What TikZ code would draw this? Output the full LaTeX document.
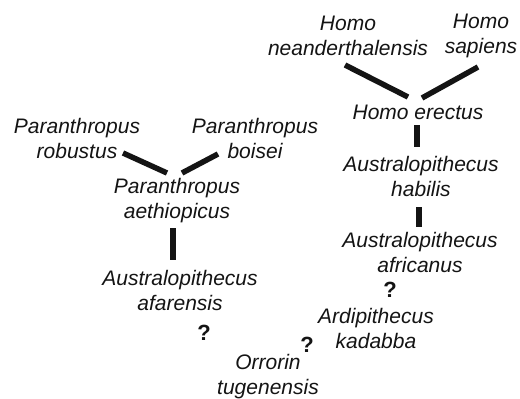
\documentclass[tikz,border=0pt]{standalone}
\usepackage{fontspec}
\setmainfont{Liberation Sans}
\usetikzlibrary{calc}
\definecolor{TreeInk}{RGB}{20,20,20}

\begin{document}
\begin{tikzpicture}[
x=1pt,y=-1pt,
taxon/.style={align=center,inner sep=0pt,text=TreeInk,
font=\itshape\fontsize{21}{25}\selectfont},
query/.style={inner sep=0pt,text=TreeInk,font=\bfseries\fontsize{22}{25}\selectfont},
branch/.style={line width=5.5pt,draw=TreeInk}
]
\useasboundingbox[fill=white] (0,0) rectangle (520,399);
% Homo
\node[taxon] (nean) at (348,36) {Homo\\neanderthalensis};
\node[taxon] (sap) at (481,36) {Homo\\sapiens};
\node[taxon] (erect) at (418,112) {Homo erectus};
\node[taxon] (habil) at (421,176) {Australopithecus\\habilis};
\node[taxon] (afric) at (420,252) {Australopithecus\\africanus};
\node[taxon] (ardi) at (376,328) {Ardipithecus\\kadabba};
\node[taxon] (orro) at (268,377) {Orrorin\\tugenensis};
% Paranthropus
\node[taxon] (robu) at (77,138) {Paranthropus\\robustus};
\node[taxon] (bois) at (255,138) {Paranthropus\\boisei};
\node[taxon] (aeth) at (177,201) {Paranthropus\\aethiopicus};
\node[taxon] (afar) at (180,290) {Australopithecus\\afarensis};
% unknown links
\node[query] (q1) at (204,333) {?};
\node[query] (q2) at (307,345) {?};
\node[query] (q3) at (390,290) {?};
\draw[branch] ($(nean)+(-3,29)$) -- ($(erect)+(-10,-15)$);
\draw[branch] ($(sap)+(-3,31)$) -- ($(erect)+(4,-14)$);
\draw[branch] ($(erect)+(-1,13)$) -- ($(habil)+(-4,-29)$);
\draw[branch] ($(habil)+(-2,31)$) -- ($(afric)+(-1,-25)$);
\draw[branch] ($(robu)+(46,15)$) -- ($(aeth)+(-10,-28)$);
\draw[branch] ($(bois)+(-37,16)$) -- ($(aeth)+(5,-28)$);
\draw[branch] ($(aeth)+(-4,27)$) -- ($(afar)+(-7,-30)$);
\end{tikzpicture}
\end{document}
